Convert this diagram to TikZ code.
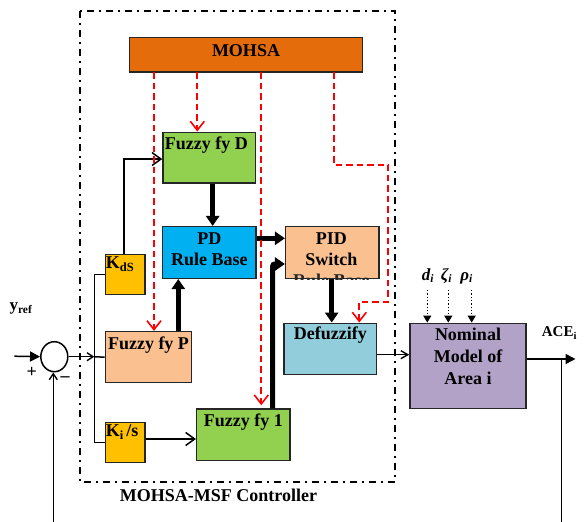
\documentclass[tikz,border=0pt]{standalone}
\usepackage{fontspec}
\setmainfont{Liberation Serif}
\usetikzlibrary{arrows.meta,calc,shapes.geometric}
\definecolor{cMOHSA}{HTML}{E46C0A}
\definecolor{cGreen}{HTML}{92D050}
\definecolor{cBlue}{HTML}{00B0F0}
\definecolor{cPeach}{HTML}{FAC090}
\definecolor{cYellow}{HTML}{FFC000}
\definecolor{cDefuz}{HTML}{92CDDC}
\definecolor{cNom}{HTML}{B3A2C7}
\definecolor{cBorder}{HTML}{262626}
\begin{document}
\begin{tikzpicture}[x=1pt,y=-1pt,
  blk/.style={draw=cBorder, line width=1.5pt, rectangle, inner sep=0pt},
  lbl/.style={font=\bfseries\fontsize{18}{21}\selectfont, inner sep=0pt, anchor=base},
  thickarr/.style={line width=5pt, -{Triangle[width=13pt,length=10pt]}},
  thinline/.style={line width=1.5pt},
  openarr/.style={thinline, -{Straight Barb[length=9pt,width=13pt,line width=1.5pt]}},
  smallarr/.style={thinline, -{Straight Barb[length=6pt,width=8pt,line width=1.4pt]}},
  fillarr/.style={thinline, -{Triangle[length=10pt,width=10pt]}},
  reddash/.style={draw=red, line width=1.8pt, dash pattern=on 6.5pt off 4pt,
     -{Straight Barb[length=9pt,width=14pt,line width=1.6pt]}},
  disturb/.style={line width=1.3pt, dotted, -{Triangle[length=7pt,width=8pt]}}
]
\useasboundingbox (0,0) rectangle (584,522);

% controller frame
\draw[line width=1.8pt, dash pattern=on 7pt off 5pt on 2pt off 5pt]
  (80,11) rectangle (395,482);
\node[lbl] (ctl) at (218.5,501) {MOHSA-MSF Controller};

% blocks
\node[blk, fill=cMOHSA, minimum width=232.6pt, minimum height=34.3pt] (mohsa) at (246,54.85) {};
\node[blk, fill=cGreen, minimum width=92.7pt, minimum height=50.7pt] (fd) at (209.35,157.65) {};
\node[blk, fill=cBlue, minimum width=93.3pt, minimum height=51.6pt] (pd) at (209.35,252.5) {};
\node[blk, fill=cPeach, minimum width=93.3pt, minimum height=51.6pt] (pid) at (332.35,252.5) {};
\node[blk, fill=cYellow, minimum width=39.7pt, minimum height=39.6pt] (kd) at (125.15,274.5) {};
\node[blk, fill=cPeach, minimum width=86.4pt, minimum height=51pt] (fp) at (148.5,357.2) {};
\node[blk, fill=cYellow, minimum width=39.7pt, minimum height=39.6pt] (ki) at (125.15,442.5) {};
\node[blk, fill=cGreen, minimum width=93.3pt, minimum height=51.7pt] (f1) at (243.35,434.85) {};
\node[blk, fill=cDefuz, minimum width=92.7pt, minimum height=51.4pt] (df) at (330.35,349) {};
\node[blk, fill=cNom, minimum width=116pt, minimum height=85.4pt] (nom) at (468,366) {};
\node[draw, line width=1.5pt, ellipse, minimum width=27pt, minimum height=30pt, inner sep=0pt] (sum) at (54.3,356.7) {};

% block texts
\node[lbl] at ([yshift=-19.6pt]mohsa.north) {MOHSA};
\node[lbl] at ([xshift=-3pt,yshift=-17.7pt]fd.north) {Fuzzy fy D};
\node[lbl] at ([yshift=-18.3pt]pd.north) {PD};
\node[lbl] at ([yshift=-39.3pt]pd.north) {Rule Base};
\node[lbl] at ([xshift=-1pt,yshift=-18.3pt]pid.north) {PID};
\node[lbl] at ([xshift=-1pt,yshift=-39.3pt]pid.north) {Switch};
\begin{scope}
  \clip (285,226) rectangle (380,279.5);
  \node[lbl, text=cBorder] at ([xshift=-1pt,yshift=-60.3pt]pid.north) {Rule Base};
\end{scope}
\node[lbl, anchor=base west] at ([xshift=1.2pt,yshift=-14.5pt]kd.north west)
  {K\raisebox{-3pt}{\fontsize{12.5}{12}\selectfont dS}};
\node[lbl] at ([yshift=-18.3pt]fp.north) {Fuzzy fy P};
\node[lbl, anchor=base west] at ([xshift=1.2pt,yshift=-14.6pt]ki.north west)
  {K\raisebox{-3pt}{\fontsize{12.5}{12}\selectfont i}\,/s};
\node[lbl] at ([yshift=-18.7pt]f1.north) {Fuzzy fy 1};
\node[lbl] at ([yshift=-17.4pt]df.north) {Defuzzify};
\node[lbl] at ([yshift=-18.4pt]nom.north) {Nominal};
\node[lbl] at ([yshift=-40pt]nom.north) {Model of};
\node[lbl] at ([yshift=-61.7pt]nom.north) {Area i};

% outer labels
\node[lbl, anchor=base west, font=\bfseries\fontsize{17}{18}\selectfont] (yref) at (9.3,310.7)
  {y\raisebox{-2.5pt}{\fontsize{11.5}{11}\selectfont ref}};
\node[lbl, font=\bfseries\fontsize{18}{18}\selectfont] (plus) at (31.7,377) {+};
\node[lbl, font=\bfseries\fontsize{18}{18}\selectfont] (minus) at (65,381) {--};
\node[lbl, anchor=base west, font=\bfseries\fontsize{15}{17}\selectfont] (ace) at (541.7,336.7)
  {ACE\raisebox{-2.5pt}{\fontsize{10.5}{10}\selectfont i}};
\node[lbl, anchor=base west, font=\bfseries\itshape\fontsize{17}{18}\selectfont] (dl) at (421.7,280)
  {d\raisebox{-2.5pt}{\fontsize{11.5}{11}\selectfont i}};
\node[lbl, anchor=base west, font=\bfseries\itshape\fontsize{17}{18}\selectfont] (zl) at (440.7,280)
  {ζ\raisebox{-2.5pt}{\fontsize{11.5}{11}\selectfont i}};
\node[lbl, anchor=base west, font=\bfseries\itshape\fontsize{17}{18}\selectfont] (rl) at (460.2,280)
  {ρ\raisebox{-2.5pt}{\fontsize{11.5}{11}\selectfont i}};

% coordinates
\coordinate (inL) at (14.3,356.2);
\coordinate (jn) at (94.3,356.7);
\coordinate (fbB) at (53.3,522);
\coordinate (aceT) at (575.5,359);
\coordinate (aceJ) at (561.7,359);
\coordinate (aceB) at (561.7,522);
\coordinate (r1) at (154,72);
\coordinate (r2) at (197.3,72);
\coordinate (r3) at (261.3,72);
\coordinate (r4) at (333.7,72);
\coordinate (r4a) at (333.7,164.7);
\coordinate (r4b) at (388.3,164.7);
\coordinate (r4c) at (388.3,301.7);
\coordinate (r4d) at (359.3,301.7);
\coordinate (xa) at (178.3,0);
\coordinate (xb) at (272.7,0);
\coordinate (xc) at (331.7,0);
\coordinate (d1) at (427.3,290);
\coordinate (d2) at (448.3,290);
\coordinate (d3) at (471.7,290);

% signal lines
\draw[fillarr] (inL) -- (sum.west);
\draw[smallarr] (fbB) -- (sum.south -| fbB);
\draw[smallarr] (sum.east) -- (jn);
\draw[thinline] (jn) -- (fp.west);
\draw[thinline] (kd.west -| jn) -- (ki.west -| jn);
\draw[thinline] (kd.west -| jn) -- (kd.west);
\draw[thinline] (ki.west -| jn) -- (ki.west);
\draw[openarr] ([xshift=-1pt]kd.north) |- ([yshift=-1.4pt]fd.west);
\draw[openarr] ([yshift=3.5pt]ki.east) -- ([yshift=3.5pt]ki.east -| f1.west);

\draw[thickarr] ([xshift=3.3pt]fd.south) -- ([xshift=3.3pt]pd.north);
\draw[thickarr] (fp.north -| xa) -- (pd.south -| xa);
\draw[thickarr] ([yshift=14.2pt]pd.east) -- ([yshift=14.2pt]pid.west);
\draw[thickarr, rounded corners=2pt] (f1.north -| xb) |- ([yshift=-11.5pt]pid.west);
\draw[thickarr] (pid.south -| xc) -- (df.north -| xc);

\draw[smallarr, -{Straight Barb[length=7pt,width=8pt,line width=1.4pt]}]
  ([yshift=-5.7pt]df.east) -- ([yshift=-5.7pt]df.east -| nom.west);
\draw[fillarr] (nom.east |- aceT) -- (aceT);
\draw[thinline] (aceJ) -- (aceB);

\draw[disturb] (d1) -- (d1 |- nom.north);
\draw[disturb] (d2) -- (d2 |- nom.north);
\draw[disturb] (d3) -- (d3 |- nom.north);

% MOHSA tuning links
\draw[reddash] (r1) -- (r1 |- fp.north);
\draw[reddash] (r2) -- (r2 |- fd.north);
\draw[reddash, shorten >=3pt] (r3) -- (r3 |- f1.north);
\draw[reddash] (r4) -- (r4a) -- (r4b) -- (r4c) -- (r4d) -- (r4d |- df.north);
\end{tikzpicture}
\end{document}
